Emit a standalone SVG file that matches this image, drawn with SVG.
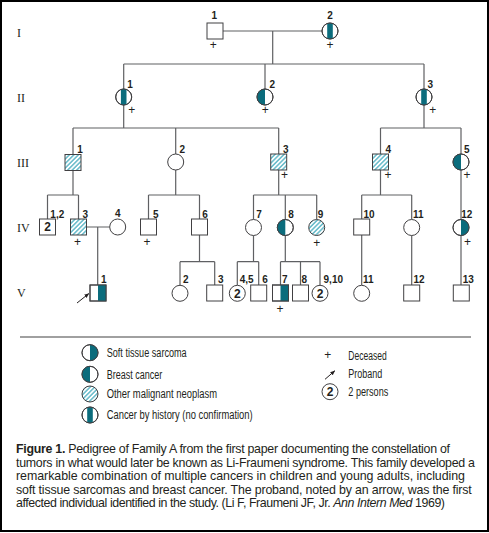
<svg xmlns="http://www.w3.org/2000/svg" xmlns:xlink="http://www.w3.org/1999/xlink" width="489" height="533" viewBox="0 0 489 533">
<style>
.ln{fill:none;stroke:#5f6063;stroke-width:1.2}
.sym{fill:#fff;stroke:#414042;stroke-width:1}
.nof{fill:none;stroke:#414042;stroke-width:1}
.tl{fill:#0b6c7c}
.lab{font-family:"Liberation Sans Narrow","Liberation Sans",Arial,sans-serif;font-weight:bold;font-size:10px;fill:#231f20;text-anchor:middle}
.gen{font-family:"Liberation Serif","Times New Roman",serif;font-size:12px;fill:#231f20}
.pl{font-family:"Liberation Sans",Arial,sans-serif;font-size:12px;fill:#231f20;text-anchor:middle}
.two{font-family:"Liberation Sans",Arial,sans-serif;font-weight:bold;font-size:12px;fill:#231f20;text-anchor:middle}
.leg{font-family:"Liberation Sans Narrow","Liberation Sans",Arial,sans-serif;font-size:12.5px;fill:#231f20}
.cap{font-family:"Liberation Sans",Arial,sans-serif;font-size:12.4px;fill:#231f20}
</style>
<defs>
<pattern id="hatch" patternUnits="userSpaceOnUse" width="3.2" height="3.2" patternTransform="rotate(45)">
<rect width="3.2" height="3.2" fill="#fff"/>
<line x1="1.6" y1="0" x2="1.6" y2="3.2" stroke="#4fb1c2" stroke-width="1.3"/>
</pattern>
<marker id="arr" viewBox="0 0 10 10" refX="9" refY="5" markerWidth="5" markerHeight="5" orient="auto" markerUnits="userSpaceOnUse">
<path d="M0,1 L10,5 L0,9 Z" fill="#231f20"/>
</marker>
<g id="sq"><rect class="sym" x="-8" y="-8" width="16" height="16"/></g>
<g id="sqh"><rect x="-8" y="-8" width="16" height="16" fill="url(#hatch)" stroke="#414042" stroke-width="1"/></g>
<g id="sqs"><rect class="sym" x="-8" y="-8" width="16" height="16"/><rect class="tl" x="0" y="-8" width="8" height="16"/><rect class="nof" x="-8" y="-8" width="16" height="16"/></g>
<g id="ci"><circle class="sym" r="8"/></g>
<g id="cih"><circle r="8" fill="url(#hatch)" stroke="#414042" stroke-width="1"/></g>
<g id="cis"><circle class="sym" r="8"/><path class="tl" d="M0,-8 A8,8 0 0 1 0,8 Z"/><circle class="nof" r="8"/></g>
<g id="cib"><circle class="sym" r="8"/><path class="tl" d="M0,-8 A8,8 0 0 0 0,8 Z"/><circle class="nof" r="8"/></g>
<g id="cic"><circle class="sym" r="8"/><path class="tl" d="M-2.8,-7.494 A8,8 0 0 1 2.8,-7.494 L2.8,7.494 A8,8 0 0 1 -2.8,7.494 Z"/><circle class="nof" r="8"/></g>
</defs>
<rect x="0" y="0" width="489" height="533" fill="#fff"/>
<rect x="1" y="1" width="487" height="530" fill="none" stroke="#000" stroke-width="2"/>

<g id="generations">
<text class="gen" x="17" y="37">I</text>
<text class="gen" x="17" y="102">II</text>
<text class="gen" x="17" y="166.7">III</text>
<text class="gen" x="17" y="231.7">IV</text>
<text class="gen" x="17" y="297">V</text>
</g>

<g id="connectors">
<path class="ln" d="M223,31 H322 M272.7,31 V64 M123.7,64 H424 M123.7,64 V89 M265,64 V89 M424,64 V89"/>
<path class="ln" d="M123.7,105 V128 M73,128 H278.7 M73,128 V154 M175.7,128 V154 M278.7,128 V154"/>
<path class="ln" d="M424,105 V128 M380.5,128 H461 M380.5,128 V154 M461,128 V154"/>
<path class="ln" d="M73,171 V195 M47.5,195 H78.5 M47.5,195 V219 M78.5,195 V219"/>
<path class="ln" d="M86.5,227 H109.7 M97.7,227 V285"/>
<path class="ln" d="M175.7,170 V195 M148.5,195 H199.5 M148.5,195 V219 M199.5,195 V219"/>
<path class="ln" d="M199.5,235 V261.7 M180,261.7 H214.7 M180,261.7 V285 M214.7,261.7 V285"/>
<path class="ln" d="M278.7,170 V195 M253.5,195 H316.7 M253.5,195 V219.5 M285.3,195 V219.5 M316.7,195 V219.5"/>
<path class="ln" d="M253.5,235.5 V261.7 M237.3,261.7 H258.7 M237.3,261.7 V285.3 M258.7,261.7 V285"/>
<path class="ln" d="M285.3,235.5 V261.7 M280.5,261.7 H320 M280.5,261.7 V285 M300.5,261.7 V285 M320,261.7 V285"/>
<path class="ln" d="M380.5,170 V195 M361.7,195 H411.7 M361.7,195 V219 M411.7,195 V219"/>
<path class="ln" d="M461,170 V219"/>
<path class="ln" d="M361.7,235 V285 M411.7,235.5 V285 M461,235.5 V285"/>
<line x1="77" y1="303" x2="88.8" y2="293.6" stroke="#231f20" stroke-width="1" marker-end="url(#arr)"/>
</g>

<g id="I-1"><use href="#sq" x="215" y="31"/><text class="lab" x="214.3" y="19">1</text><text class="pl" x="213.3" y="49.3">+</text></g>
<g id="I-2"><use href="#cic" x="330" y="31"/><text class="lab" x="330" y="19">2</text><text class="pl" x="330" y="49.3">+</text></g>

<g id="II-1"><use href="#cic" x="123.7" y="97"/><text class="lab" x="130" y="87.5">1</text><text class="pl" x="131.7" y="113.6">+</text></g>
<g id="II-2"><use href="#cib" x="265" y="97"/><text class="lab" x="272.3" y="87.5">2</text><text class="pl" x="265.3" y="113.6">+</text></g>
<g id="II-3"><use href="#cic" x="424" y="97"/><text class="lab" x="430.3" y="87.5">3</text><text class="pl" x="432.7" y="113.6">+</text></g>

<g id="III-1"><use href="#sqh" x="73" y="162.5"/><text class="lab" x="80" y="152.5">1</text></g>
<g id="III-2"><use href="#ci" x="175.7" y="162"/><text class="lab" x="182.3" y="152.5">2</text></g>
<g id="III-3"><use href="#sqh" x="278.7" y="162"/><text class="lab" x="285.7" y="152.5">3</text><text class="pl" x="284.5" y="179.3">+</text></g>
<g id="III-4"><use href="#sqh" x="380.5" y="162"/><text class="lab" x="388.3" y="152.5">4</text><text class="pl" x="388" y="179.3">+</text></g>
<g id="III-5"><use href="#cib" x="461" y="162"/><text class="lab" x="466.7" y="152.5">5</text><text class="pl" x="467" y="179.3">+</text></g>

<g id="IV-1-2"><use href="#sq" x="47.5" y="227"/><text class="two" x="47.5" y="231.3">2</text><text class="lab" x="57.3" y="217.5">1,2</text></g>
<g id="IV-3"><use href="#sqh" x="78.5" y="227"/><text class="lab" x="85.3" y="217.5">3</text><text class="pl" x="77.5" y="246">+</text></g>
<g id="IV-4"><use href="#ci" x="117.7" y="227"/><text class="lab" x="117.7" y="217">4</text></g>
<g id="IV-5"><use href="#sq" x="148.5" y="227"/><text class="lab" x="155.7" y="217.5">5</text><text class="pl" x="147" y="246">+</text></g>
<g id="IV-6"><use href="#sq" x="199.5" y="227"/><text class="lab" x="205" y="217.5">6</text></g>
<g id="IV-7"><use href="#ci" x="253.5" y="227.5"/><text class="lab" x="259" y="217.5">7</text></g>
<g id="IV-8"><use href="#cib" x="285.3" y="227.5"/><text class="lab" x="291" y="217.5">8</text></g>
<g id="IV-9"><use href="#cih" x="316.7" y="227.5"/><text class="lab" x="320.5" y="217.5">9</text><text class="pl" x="316.7" y="247">+</text></g>
<g id="IV-10"><use href="#sq" x="361.7" y="227"/><text class="lab" x="369" y="217.5">10</text></g>
<g id="IV-11"><use href="#ci" x="411.7" y="227.5"/><text class="lab" x="418.3" y="217.5">11</text></g>
<g id="IV-12"><use href="#cis" x="461" y="227.5"/><text class="lab" x="466.7" y="217.5">12</text><text class="pl" x="467.5" y="246">+</text></g>

<g id="V-1"><use href="#sqs" x="98" y="293"/><text class="lab" x="103.7" y="283">1</text></g>
<g id="V-2"><use href="#ci" x="180" y="293.3"/><text class="lab" x="185.7" y="283">2</text></g>
<g id="V-3"><use href="#sq" x="214.7" y="293"/><text class="lab" x="220.7" y="283">3</text></g>
<g id="V-4-5"><use href="#ci" x="237.3" y="293.3"/><text class="two" x="237.3" y="297.6">2</text><text class="lab" x="246.7" y="283">4,5</text></g>
<g id="V-6"><use href="#sq" x="258.7" y="293"/><text class="lab" x="265" y="283">6</text></g>
<g id="V-7"><use href="#sqs" x="280.5" y="293"/><text class="lab" x="284.7" y="283">7</text><text class="pl" x="280" y="312.6">+</text></g>
<g id="V-8"><use href="#sq" x="300.5" y="293"/><text class="lab" x="304.3" y="283">8</text></g>
<g id="V-9-10"><use href="#ci" x="320" y="293.3"/><text class="two" x="320" y="297.6">2</text><text class="lab" x="333.3" y="283">9,10</text></g>
<g id="V-11"><use href="#ci" x="361.7" y="293.3"/><text class="lab" x="368.3" y="283">11</text></g>
<g id="V-12"><use href="#sq" x="411.7" y="293"/><text class="lab" x="419" y="283">12</text></g>
<g id="V-13"><use href="#sq" x="461.3" y="293"/><text class="lab" x="468.3" y="283">13</text></g>

<path d="M20,337 H471" stroke="#808080" stroke-width="1.5" fill="none"/>

<g id="legend">
<use href="#cis" x="90" y="352.7"/>
<text class="leg" x="106.7" y="357.3" textLength="80" lengthAdjust="spacingAndGlyphs">Soft tissue sarcoma</text>
<use href="#cib" x="90" y="374.3"/>
<text class="leg" x="106.7" y="378.8" textLength="55.6" lengthAdjust="spacingAndGlyphs">Breast cancer</text>
<use href="#cih" x="90" y="394"/>
<text class="leg" x="106.7" y="398.3" textLength="110.3" lengthAdjust="spacingAndGlyphs">Other malignant neoplasm</text>
<use href="#cic" x="90" y="415"/>
<text class="leg" x="106.7" y="419.3" textLength="146" lengthAdjust="spacingAndGlyphs">Cancer by history (no confirmation)</text>
<text class="pl" x="327.7" y="359.3">+</text>
<text class="leg" x="348.3" y="359.5" textLength="38.4" lengthAdjust="spacingAndGlyphs">Deceased</text>
<line x1="325" y1="379.3" x2="334.8" y2="370.8" stroke="#231f20" stroke-width="1" marker-end="url(#arr)"/>
<text class="leg" x="348.3" y="377.7" textLength="34" lengthAdjust="spacingAndGlyphs">Proband</text>
<use href="#ci" x="330" y="391.7"/>
<text class="two" x="330" y="396">2</text>
<text class="leg" x="348.3" y="396" textLength="40" lengthAdjust="spacingAndGlyphs">2 persons</text>
</g>

<g id="caption">
<text class="cap" x="16" y="453" textLength="434" lengthAdjust="spacing"><tspan font-weight="bold">Figure 1.</tspan> Pedigree of Family A from the first paper documenting the constellation of</text>
<text class="cap" x="16" y="466.5" textLength="459" lengthAdjust="spacing">tumors in what would later be known as Li-Fraumeni syndrome. This family developed a</text>
<text class="cap" x="16" y="480" textLength="449" lengthAdjust="spacing">remarkable combination of multiple cancers in children and young adults, including</text>
<text class="cap" x="16" y="493.5" textLength="455.7" lengthAdjust="spacing">soft tissue sarcomas and breast cancer. The proband, noted by an arrow, was the first</text>
<text class="cap" x="16" y="507" textLength="429" lengthAdjust="spacing">affected individual identified in the study. (Li F, Fraumeni JF, Jr. <tspan font-style="italic">Ann Intern Med</tspan> 1969)</text>
</g>
</svg>
